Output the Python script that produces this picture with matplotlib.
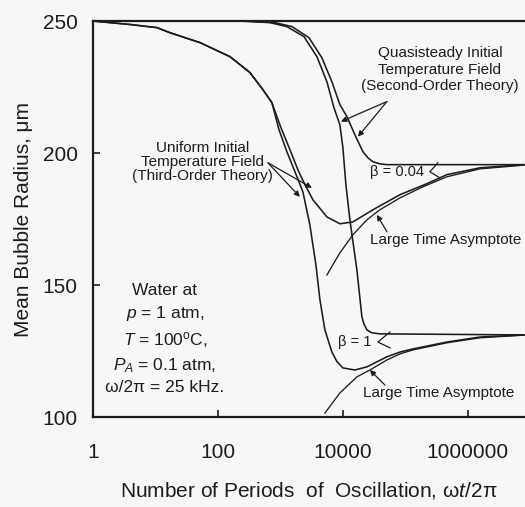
import numpy as np
import matplotlib.pyplot as plt

plt.rc('font', family=['Liberation Sans', 'DejaVu Sans'])
plt.rc('mathtext', fontset='custom', rm='Liberation Sans',
       it='Liberation Sans:italic', bf='Liberation Sans:bold')

ink = '#1c1c1c'
paper = '#f6f7f7'

# common early part of the two uniform-initial-field curves
t_start = [1, 3.9, 10.6, 17, 52, 156, 325, 525, 730]
r_start = [250, 248.7, 247.5, 245.6, 241.8, 236.5, 230.5, 224.0, 219.1]

# uniform initial temperature field, beta = 0.04
t_uni_004 = [1020, 1420, 1900, 2470, 3310, 5550, 8950, 14450, 30200,
             81700, 221000, 461000, 1.56e6, 7.87e6]
r_uni_004 = [209.6, 201.3, 193.7, 188.0, 182.3, 175.8, 173.2, 173.9, 178.5,
             184.2, 188.4, 191.8, 194.4, 195.6]

# uniform initial temperature field, beta = 1
t_uni_1 = [950, 1270, 1710, 2290, 2960, 3700, 4290, 5150, 6670, 8020, 10000,
           15560, 24200, 50600, 81700, 132000, 461000, 1.56e6, 7.87e6]
r_uni_1 = [208.8, 200.5, 192.9, 185.3, 172.8, 157.6, 144.4, 133.0, 124.6,
           121.0, 118.6, 117.8, 119.0, 122.8, 124.6, 125.8, 128.4, 130.3, 131.1]

# quasisteady initial temperature field, beta = 0.04
t_qs_004 = [1, 270, 817, 1530, 2860, 4610, 6670, 8950, 11590, 15560,
            20900, 25100, 30200, 39080, 50600, 7.87e6]
r_qs_004 = [250, 250, 249.4, 247.9, 243.7, 236.1, 227.0, 218.3, 213.8, 206.9,
            200.5, 198.2, 196.7, 195.9, 195.6, 195.6]

# quasisteady initial temperature field, beta = 1
t_qs_1 = [1, 225, 680, 1270, 2380, 3840, 5550, 7180, 8950, 10000, 11170,
          12940, 16750, 20140, 21700, 24200, 29100, 39080, 7.87e6]
r_qs_1 = [250, 250, 249.4, 247.9, 244.1, 236.5, 227.0, 217.2, 210.7, 202.0,
          188.0, 174.7, 155.7, 137.9, 135.3, 133.0, 131.9, 131.5, 131.1]

# large time asymptotes
t_asy_004 = [5550, 8950, 14450, 24200, 39080, 81700, 190500, 461000,
             1.56e6, 7.87e6]
r_asy_004 = [153.8, 162.2, 169.0, 174.7, 178.5, 183.0, 187.2, 191.0,
             194.0, 195.4]
t_asy_1 = [5150, 8950, 16750, 27000, 50600, 81700, 132000, 461000,
           1.56e6, 7.87e6]
r_asy_1 = [101.5, 109.1, 115.2, 117.8, 121.6, 123.9, 125.4, 128.1,
           130.0, 131.0]

x_ticks = [1, 100, 10000, 1000000]
x_ticklabels = ['1', '100', '10000', '1000000']
y_ticks = [100, 150, 200, 250]

fig = plt.figure(figsize=(5.25, 5.07), dpi=100, facecolor=paper)
ax = fig.add_axes([0.177, 0.1775, 0.823, 0.781], facecolor=paper)

lw = 1.15
ax.plot(t_start + t_uni_004, r_start + r_uni_004, color=ink, lw=lw)
ax.plot(t_start + t_uni_1, r_start + r_uni_1, color=ink, lw=lw)
ax.plot(t_qs_004, r_qs_004, color=ink, lw=lw)
ax.plot(t_qs_1, r_qs_1, color=ink, lw=lw)
ax.plot(t_asy_004, r_asy_004, color=ink, lw=0.95)
ax.plot(t_asy_1, r_asy_1, color=ink, lw=0.95)

ax.set_xscale('log')
ax.set_xlim(1, 8.2e6)
ax.set_ylim(100, 250)
ax.set_xticks(x_ticks)
ax.set_xticklabels(x_ticklabels)
ax.set_yticks(y_ticks)
ax.minorticks_off()
ax.tick_params(axis='both', direction='in', length=5, width=1.2,
               colors=ink, labelsize=15)
ax.tick_params(axis='x', pad=19)
ax.tick_params(axis='y', pad=11)
for side in ['left', 'bottom', 'top']:
    ax.spines[side].set_linewidth(1.6)
    ax.spines[side].set_color(ink)
ax.spines['right'].set_visible(False)

ax.set_xlabel('Number of Periods  of  Oscillation, \u03c9$t$/2\u03c0',
              fontsize=15, color=ink, labelpad=13)
ax.set_ylabel('Mean Bubble Radius, \u03bcm', fontsize=15, color=ink,
              labelpad=7)

# annotations
arrow = dict(arrowstyle='-|>', lw=0.9, color=ink, mutation_scale=8,
             shrinkA=0, shrinkB=0)
txt = dict(fontsize=11, color=ink, ha='center', va='center')

ax.text(356000, 231.6, 'Quasisteady Initial\nTemperature Field\n(Second-Order Theory)',
        linespacing=1.25, **txt)
for head in [(9290, 211.9), (17400, 206.2)]:
    ax.annotate('', xy=head, xytext=(50600, 219.5), arrowprops=arrow)

ax.text(57.5, 196.7, 'Uniform Initial\nTemperature Field\n(Third-Order Theory)',
        linespacing=1.0, **txt)
for head in [(2050, 183.4), (3190, 186.8)]:
    ax.annotate('', xy=head, xytext=(631, 196.3), arrowprops=arrow)

ax.text(27000, 192.9, '\u03b2 = 0.04', fontsize=10.5, color=ink,
        ha='left', va='center')
ax.plot([331000, 246600, 356000], [196.3, 192.9, 190.6], color=ink, lw=0.9)

ax.text(27000, 167.1, 'Large Time Asymptote', fontsize=11, color=ink,
        ha='left', va='center')
ax.annotate('', xy=(35000, 176.6), xytext=(50600, 170.2), arrowprops=arrow)

ax.text(8300, 128.4, '\u03b2 = 1', fontsize=10.5, color=ink,
        ha='left', va='center')
ax.plot([56500, 36300, 56500], [132.2, 128.4, 126.2], color=ink, lw=0.9)

ax.text(20900, 109.1, 'Large Time Asymptote', fontsize=11, color=ink,
        ha='left', va='center')
ax.annotate('', xy=(27000, 117.8), xytext=(47000, 112.1), arrowprops=arrow)

ax.text(14.2, 129.6,
        'Water at\n$p$ = 1 atm,\n$T$ = 100$^{\\rm o}$C,\n'
        '$P_{A}$ = 0.1 atm,\n\u03c9/2\u03c0 = 25 kHz.',
        fontsize=12.5, color=ink, ha='center', va='center', linespacing=1.45)

fig.savefig('out.png', dpi=100, facecolor=paper)
